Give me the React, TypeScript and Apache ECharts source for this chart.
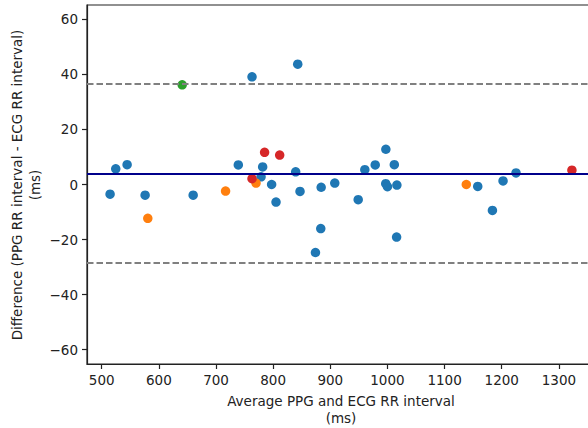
import { useEffect, useRef } from 'react';
import * as echarts from 'echarts';

const xTicks = [500, 600, 700, 800, 900, 1000, 1100, 1200, 1300];
const yTicks = [-60, -40, -20, 0, 20, 40, 60];

const blueX = [524.5, 544.4, 514.6, 575.9, 660, 763, 843, 739, 781.6, 778.8, 797.3, 805, 839.4, 847, 884, 883.3, 874, 907.8, 948.8, 960.4, 978.6, 997.2, 1012, 997, 1000, 1016.5, 1016, 1158, 1183.7, 1202.3, 1225];
const blueY = [5.7, 7.2, -3.5, -3.9, -3.9, 39.1, 43.7, 7.1, 6.4, 2.8, 0, -6.4, 4.6, -2.5, -1, -16, -24.7, 0.5, -5.5, 5.4, 7.1, 12.8, 7.2, 0.3, -0.8, -0.2, -19.1, -0.7, -9.4, 1.3, 4.2];
const orangeX = [580.6, 716.7, 770, 1138];
const orangeY = [-12.3, -2.4, 0.5, 0];
const redX = [785, 811.4, 763, 1322.8];
const redY = [11.7, 10.7, 2.1, 5.2];
const greenX = [640.8];
const greenY = [36.2];

const meanDiff = 3.95;
const upperLimit = 36.5;
const lowerLimit = -28.6;

const xTitle = 'Average PPG and ECG RR interval\n(ms)';
const yTitle = 'Difference (PPG RR interval - ECG RR interval)\n(ms)';

const FONT = 'DejaVu Sans';
const TXT = '#222';

function pairs(xs: number[], ys: number[]) {
  return xs.map((x, i) => [x, ys[i]]);
}

export default function App() {
  const ref = useRef<HTMLDivElement>(null);
  useEffect(() => {
    document.body.style.margin = '0';
    const chart = echarts.init(ref.current!, undefined, { renderer: 'svg' });
    const scatter = (name: string, data: number[][], color: string) => ({
      type: 'scatter',
      name,
      data,
      symbolSize: 9.5,
      itemStyle: { color, opacity: 1 },
      z: 2,
    });
    chart.setOption({
      animation: false,
      grid: {
        left: 87,
        top: 5,
        right: 5,
        bottom: 64,
        show: true,
        borderColor: '#222',
        borderWidth: 1.2,
        backgroundColor: 'transparent',
      },
      xAxis: {
        type: 'value',
        min: 474.2,
        max: 1363.2,
        splitLine: { show: false },
        axisLine: { show: true, onZero: false, lineStyle: { color: '#222', width: 1.2 } },
        axisTick: { show: true, length: 5, customValues: xTicks, lineStyle: { color: '#222', width: 1.2 } },
        axisLabel: {
          customValues: xTicks,
          margin: 9,
          fontSize: 13.5,
          fontFamily: FONT,
          color: TXT,
          formatter: (v: number) => String(v),
        },
      },
      yAxis: {
        type: 'value',
        min: -65.2,
        max: 65.2,
        splitLine: { show: false },
        axisLine: { show: true, onZero: false, lineStyle: { color: '#222', width: 1.2 } },
        axisTick: { show: true, length: 5, customValues: yTicks, lineStyle: { color: '#222', width: 1.2 } },
        axisLabel: {
          customValues: yTicks,
          margin: 9,
          fontSize: 13.5,
          fontFamily: FONT,
          color: TXT,
          formatter: (v: number) => (v < 0 ? '\u2212' + Math.abs(v) : String(v)),
        },
      },
      series: [
        scatter('blue', pairs(blueX, blueY), '#1f77b4'),
        scatter('orange', pairs(orangeX, orangeY), '#ff7f0e'),
        scatter('red', pairs(redX, redY), '#d62728'),
        scatter('green', pairs(greenX, greenY), '#2ca02c'),
        {
          type: 'line',
          data: [],
          z: 5,
          markLine: {
            silent: true,
            symbol: 'none',
            label: { show: false },
            data: [
              { yAxis: meanDiff, lineStyle: { color: '#00008b', width: 2, type: 'solid' } },
              { yAxis: upperLimit, lineStyle: { color: '#808080', width: 2, type: [6.5, 3] } },
              { yAxis: lowerLimit, lineStyle: { color: '#808080', width: 2, type: [6.5, 3] } },
            ],
          },
        },
      ],
      graphic: [
        {
          type: 'text',
          x: 341,
          y: 409.5,
          style: {
            text: xTitle,
            align: 'center',
            verticalAlign: 'middle',
            fontSize: 13.5,
            fontFamily: FONT,
            fill: TXT,
            lineHeight: 17,
          },
        },
        {
          type: 'text',
          x: 26,
          y: 185,
          rotation: Math.PI / 2,
          style: {
            text: yTitle,
            align: 'center',
            verticalAlign: 'middle',
            fontSize: 13.5,
            fontFamily: FONT,
            fill: TXT,
            lineHeight: 18,
          },
        },
      ],
    });
    return () => chart.dispose();
  }, []);
  return (
    <div style={{ width: 588, height: 428, overflow: 'hidden', position: 'relative' }}>
      <div ref={ref} style={{ width: 600, height: 428 }} />
    </div>
  );
}
